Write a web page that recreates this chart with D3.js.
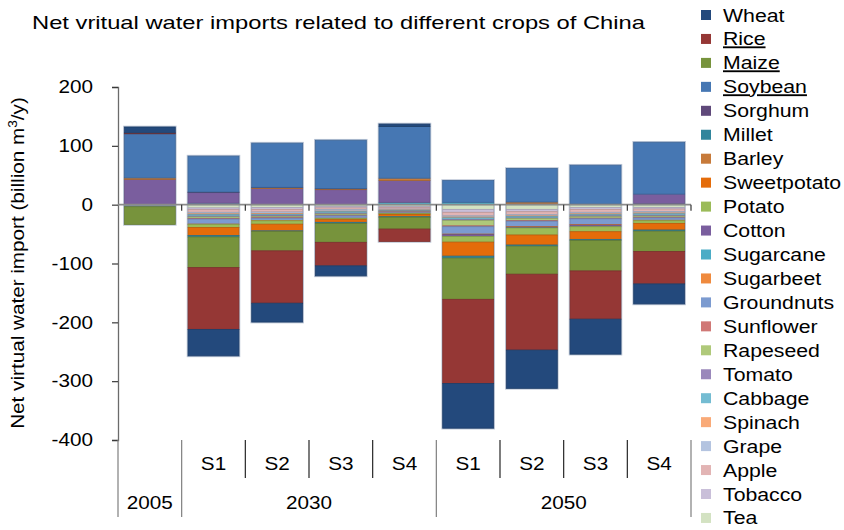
<!DOCTYPE html>
<html>
<head>
<meta charset="utf-8">
<script src="https://cdn.jsdelivr.net/npm/d3@7"></script>
<style>
  html, body { margin: 0; padding: 0; background: #fff; }
  svg { display: block; font-family: "Liberation Sans", Arial, sans-serif; }
</style>
</head>
<body>
<svg id="chart" width="844" height="530"></svg>
<script>
// Scenario columns and their year groups
const categories = ["2005", "S1", "S2", "S3", "S4", "S1", "S2", "S3", "S4"];
const groupLabels = ["2005", "2030", "2050"];
const groupSizes = [1, 4, 4];
const yTicks = [-400, -300, -200, -100, 0, 100, 200];

// Crops, in legend order
const crops = ["Wheat", "Rice", "Maize", "Soybean", "Sorghum", "Millet", "Barley", "Sweetpotato",
  "Potato", "Cotton", "Sugarcane", "Sugarbeet", "Groundnuts", "Sunflower", "Rapeseed", "Tomato",
  "Cabbage", "Spinach", "Grape", "Apple", "Tobacco", "Tea"];
const underlined = ["Rice", "Maize", "Soybean"];

// Net virtual water import per crop (billion m3/y), one value per column
const Wheat       = [10, -45, -32, -17, 4, -76, -65, -59.5, -34];
const Rice        = [1.5, -105, -89, -40, -21, -143, -129, -82, -55];
const Maize       = [-30, -52, -33, -32, -20, -70, -47.6, -51.6, -34.6];
const Soybean     = [75, 61, 75, 82, 88, 37, 57, 66, 88];
const Sorghum     = [0, 1, 0.5, 0.5, 0, 0, 0, 0, 0];
const Millet      = [0, -2.5, -1, -2, -1, -3.4, -2, -2, -2];
const Barley      = [2.5, 0, 1.5, 1.5, 4, 0, 3, 0, 0];
const Sweetpotato = [0, -13.5, -11.3, -4.5, -4, -23.8, -17, -13, -11.3];
const Potato      = [0, -5.5, -5.7, -2, -1.5, -9.7, -12, -8.5, -4.5];
const Cotton      = [43, 18, 27, 25, 37, -3, -1.5, -2.8, 16];
const Sugarcane   = [0, 2.5, 0.5, 0.5, 4, 4, 1.5, 1, 2];
const Sugarbeet   = [0, -0.5, -0.5, -0.5, -0.5, -1, -1, -1, -0.8];
const Groundnuts  = [-1, -8.5, -4, -4, -2, -12.5, -9, -9.7, -4];
const Sunflower   = [0, -1, -1, -1, -0.5, -1.5, -1, -1, -1];
const Rapeseed    = [0, -2.5, -2, -2, -1, -9, -3.4, -2.5, -2];
const Tomato      = [0, -1.5, -1.5, -1.5, -0.5, -1.5, -1, -1.5, -1.5];
const Cabbage     = [-0.5, -2.5, -2, -2.5, -1, -3, -2.5, -2, -2.5];
const Spinach     = [0, -1.5, -1.5, -1, -0.5, -1.5, -1.2, -1.5, -1.5];
const Grape       = [0, -2.5, -2.5, -2.5, -1.5, -2, -2, -2.5, -2.5];
const Apple       = [-1, -4.5, -4.5, -3, -2.5, -6, -5, -5, -4];
const Tobacco     = [0, -3, -3, -2.5, -2, -5, -4, -3, -2.5];
const Tea         = [-1, -5.5, -5, -3, -3, -8, -8, -5, -5];

const seriesValues = {Wheat, Rice, Maize, Soybean, Sorghum, Millet, Barley, Sweetpotato, Potato,
  Cotton, Sugarcane, Sugarbeet, Groundnuts, Sunflower, Rapeseed, Tomato, Cabbage, Spinach,
  Grape, Apple, Tobacco, Tea};

const colors = {
  Wheat: "#23497c", Rice: "#953735", Maize: "#77933c", Soybean: "#4677b3",
  Sorghum: "#5f497a", Millet: "#31859c", Barley: "#c77a3a", Sweetpotato: "#e46c0a",
  Potato: "#9bbb59", Cotton: "#7a5e9e", Sugarcane: "#4bacc6", Sugarbeet: "#ef8a3e",
  Groundnuts: "#7c9bd0", Sunflower: "#d07876", Rapeseed: "#afc97a", Tomato: "#9a88bb",
  Cabbage: "#74bcd2", Spinach: "#f9aa78", Grape: "#b4c4e0", Apple: "#e2b4b4",
  Tobacco: "#c9bfd9", Tea: "#d3e2c2"
};

const svg = d3.select("#chart");
const plotLeft = 118, plotRight = 691, plotTop = 87, plotBottom = 440;
const textWiden = 1.15; // labels are set slightly wide

const x = d3.scaleBand().domain(d3.range(categories.length))
  .range([plotLeft, plotRight]).paddingInner(0.2).paddingOuter(0.1);
const step = x.step();
const bandStart = i => plotLeft + i * step;
const y = d3.scaleLinear().domain([-400, 200]).range([plotBottom, plotTop]);

// Rows for stacking; series nearest zero come last in the legend
const rows = categories.map((c, i) => {
  const r = {idx: i};
  crops.forEach(k => r[k] = seriesValues[k][i]);
  return r;
});
const stackKeys = crops.slice().reverse();
const stacked = d3.stack().keys(stackKeys).offset(d3.stackOffsetDiverging)(rows);

// Soft outline around each whole column
const extents = rows.map((r, i) => {
  let pos = 0, neg = 0;
  crops.forEach(k => { const v = r[k]; if (v > 0) pos += v; else neg += v; });
  return {i, pos, neg};
});
svg.append("g").selectAll("rect").data(extents).join("rect")
  .attr("x", d => x(d.i) - 0.5)
  .attr("width", x.bandwidth() + 1)
  .attr("y", d => y(d.pos) - 0.5)
  .attr("height", d => y(d.neg) - y(d.pos) + 1)
  .attr("fill", "none")
  .attr("stroke", "#bcc6d6")
  .attr("stroke-width", 1.6);

// Stacked segments
svg.append("g").selectAll("g").data(stacked).join("g")
  .attr("fill", d => colors[d.key])
  .attr("stroke", d => d3.color(colors[d.key]).darker(0.5))
  .attr("stroke-width", 0.8)
  .selectAll("rect").data(d => d.filter(s => s[1] - s[0] !== 0)).join("rect")
  .attr("x", d => x(d.data.idx))
  .attr("width", x.bandwidth())
  .attr("y", d => y(Math.max(d[0], d[1])))
  .attr("height", d => Math.abs(y(d[0]) - y(d[1])));

// Value axis
const yAxis = svg.append("g").attr("transform", `translate(${plotLeft},0)`)
  .call(d3.axisLeft(y).tickValues(yTicks).tickSize(6).tickPadding(19).tickFormat(d => String(d)));
yAxis.select(".domain").attr("stroke", "#6b6b6b").attr("stroke-width", 1.3);
yAxis.selectAll(".tick line").attr("stroke", "#3a3a3a").attr("stroke-width", 1.2);
yAxis.selectAll(".tick text").attr("font-size", 18).attr("fill", "#000")
  .attr("font-family", "'Liberation Sans', Arial, sans-serif").classed("wide", true);

// Zero baseline with category ticks
svg.append("line").attr("x1", plotLeft).attr("x2", plotRight).attr("y1", y(0)).attr("y2", y(0))
  .attr("stroke", "#8a8a8a").attr("stroke-width", 1.8);
svg.append("g").selectAll("line").data(d3.range(1, categories.length + 1)).join("line")
  .attr("x1", i => bandStart(i)).attr("x2", i => bandStart(i))
  .attr("y1", y(0)).attr("y2", y(0) + 6)
  .attr("stroke", "#333").attr("stroke-width", 1.2);

// Multi-level category labels below the plot
const groupEdges = [0];
groupSizes.forEach(s => groupEdges.push(groupEdges[groupEdges.length - 1] + s));
const sep = svg.append("g").attr("stroke-width", 1.2);
d3.range(0, categories.length + 1).forEach(i => {
  const outer = groupEdges.includes(i);
  sep.append("line")
    .attr("x1", bandStart(i)).attr("x2", bandStart(i))
    .attr("y1", plotBottom).attr("y2", outer ? 517 : 478)
    .attr("stroke", outer ? "#7f7f7f" : "#262626");
});
svg.append("g").selectAll("text").data(categories.map((c, i) => ({c, i})).filter(d => d.i >= 1)).join("text")
  .attr("class", "wide")
  .attr("x", d => x(d.i) + x.bandwidth() / 2)
  .attr("y", 470)
  .attr("text-anchor", "middle")
  .attr("font-size", 18)
  .text(d => d.c);
svg.append("g").selectAll("text").data(groupLabels).join("text")
  .attr("class", "wide")
  .attr("x", (d, g) => (bandStart(groupEdges[g]) + bandStart(groupEdges[g + 1])) / 2)
  .attr("y", 509)
  .attr("text-anchor", "middle")
  .attr("font-size", 18)
  .text(d => d);

// Title and axis title
svg.append("text").attr("x", 32).attr("y", 29)
  .attr("font-size", 19).attr("textLength", 613).attr("lengthAdjust", "spacingAndGlyphs")
  .text("Net vritual water imports related to different crops of China");

const yt = svg.append("text")
  .attr("class", "wide")
  .attr("transform", "translate(24,263) rotate(-90)")
  .attr("text-anchor", "middle").attr("font-size", 18);
yt.append("tspan").text("Net virtual water import (billion m");
yt.append("tspan").attr("font-size", 12).attr("dy", -7).text("3");
yt.append("tspan").attr("dy", 7).text("/y)");

// Legend
const legend = svg.append("g").selectAll("g").data(crops).join("g")
  .attr("transform", (d, i) => `translate(701,${15 + i * 23.95})`);
legend.append("rect").attr("x", 0).attr("y", -5).attr("width", 10).attr("height", 10)
  .attr("fill", d => colors[d]);
legend.append("text").attr("class", "wide").attr("x", 22).attr("y", 6.5).attr("font-size", 18.5)
  .attr("text-decoration", d => underlined.includes(d) ? "underline" : null)
  .text(d => d);

// Widen the labels horizontally around their anchor point
svg.selectAll("text.wide").each(function() {
  const el = d3.select(this);
  const tx = +el.attr("x") || 0, ty = +el.attr("y") || 0;
  const base = el.attr("transform") || "";
  el.attr("x", 0).attr("y", 0)
    .attr("transform", `${base} translate(${tx},${ty}) scale(${textWiden},1)`);
});
</script>
</body>
</html>
